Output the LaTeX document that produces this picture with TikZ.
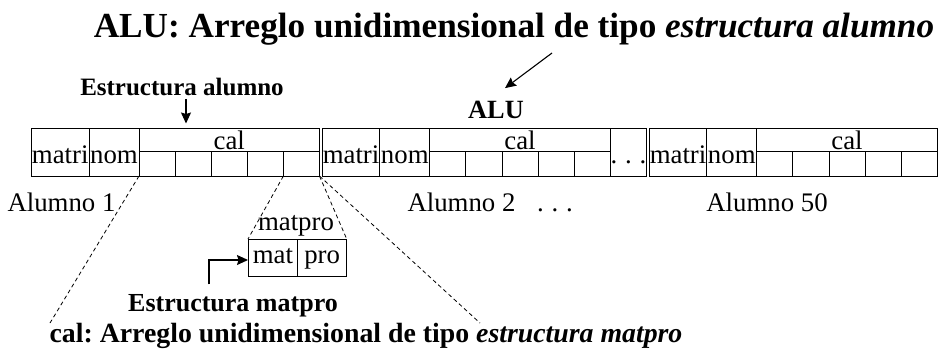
\documentclass[tikz,border=0pt]{standalone}
\usepackage{fontspec}
\setmainfont{Liberation Serif}
\usetikzlibrary{arrows.meta,positioning}

\newcommand{\puntos}{.\hspace{7.8pt}.\hspace{7.8pt}.}
\frenchspacing

\begin{document}
\begin{tikzpicture}[x=1pt,y=-1pt,font=\fontsize{26.8}{30}\selectfont,
  celda/.style={draw,line width=0.9pt,inner sep=0pt,outer sep=0pt,anchor=north west,text height=22pt,text depth=0pt},
  etiqueta/.style={anchor=base},
  negrita/.style={anchor=base,font=\fontsize{#1}{30}\selectfont\bfseries},
  flecha/.style={-{Stealth[length=11pt,width=10pt,inset=1.5pt]},line width=1.1pt},
  punteada/.style={dash pattern=on 4pt off 3pt,line width=0.8pt}]
\useasboundingbox (0,0) rectangle (941,354);

\node[anchor=base,font=\fontsize{35.2}{40}\selectfont\bfseries] (titulo) at (514,37) {ALU: Arreglo unidimensional de tipo \textit{estructura alumno}};

% los tres alumnos del arreglo
\foreach \bx/\bn/\ax/\lbl in {31.5/1/61.5/Alumno 1,322.3/2/461.5/Alumno 2,649.3/3/767/Alumno 50}{
  \node[celda,minimum width=57.5pt,minimum height=47.5pt] (m\bn) at (\bx,128.5) {matri};
  \node[celda,minimum width=50pt,minimum height=47.5pt,right=0pt of m\bn] (n\bn) {nom};
  \node[celda,minimum width=180.5pt,minimum height=22.5pt,text height=18.5pt] (c\bn) at (n\bn.north east) {cal};
  \foreach \i in {1,...,5}
    \node[celda,minimum width=36.1pt,minimum height=25pt] (c\bn-\i) at ([xshift={(\i-1)*36.1pt}]c\bn.south west) {};
  \node[etiqueta] (al\bn) at (\ax,211) {\lbl};
}
\node[celda,minimum width=36.5pt,minimum height=47.5pt] (pts) at (c2.north east) {\puntos};
\node[etiqueta] (ptsal) at (555,211) {\puntos};

\node[negrita=25] (estal) at (182,95) {Estructura alumno};
\draw[flecha] ([xshift=4pt]estal.south) -- ([xshift=4pt,yshift=5pt]estal.south |- c1.north);
\node[negrita=26.3] (alu) at (496,118) {ALU};
\coordinate (alupunta) at (552,53);
\draw[flecha] (alupunta) -- ([shift={(9,-9)}]alu.north);

% estructura matpro
\node[celda,minimum width=49.7pt,minimum height=37pt,text height=11.6pt] (mat) at (248,239) {mat};
\node[celda,minimum width=49pt,minimum height=37pt,text height=11.6pt,right=0pt of mat] (pro) {pro};
\node[etiqueta] (matpro) at (296,230) {matpro};
\node[negrita=26] (estmat) at (233,311) {Estructura matpro};
\draw[flecha] ([xshift=-24pt,yshift=6pt]estmat.north) |- ([yshift=-2.5pt]mat.west);

\node[negrita=27.8] (caltxt) at (366,342) {cal: Arreglo unidimensional de tipo \textit{estructura matpro}};
\coordinate (calizq) at (50,323);
\coordinate (calder) at (480,323);
\draw[punteada] (c1-1.south west) -- (calizq);
\draw[punteada] (c1-5.south west) -- (mat.north west);
\draw[punteada] (c1-5.south east) -- (pro.north east);
\draw[punteada] (c1-5.south east) -- (calder);
\end{tikzpicture}
\end{document}
